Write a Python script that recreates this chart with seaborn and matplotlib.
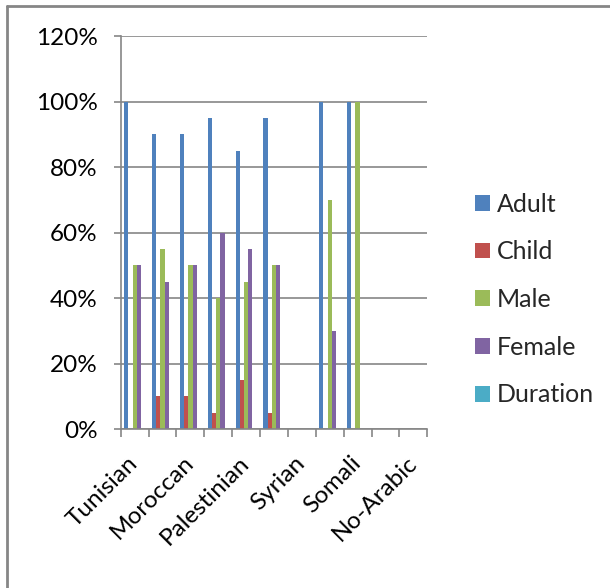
import numpy as np
import pandas as pd
import seaborn as sns
import matplotlib
matplotlib.use("Agg")
import matplotlib.pyplot as plt
from matplotlib.lines import Line2D
from matplotlib.patches import Patch

# ---- data ----
categories = ["Tunisian", "(2)", "Moroccan", "(4)", "Palestinian", "(6)",
              "Syrian", "(8)", "Somali", "(10)", "No-Arabic"]
shown_labels = ["Tunisian", "", "Moroccan", "", "Palestinian", "",
                "Syrian", "", "Somali", "", "No-Arabic"]
series = ["Adult", "Child", "Male", "Female", "Duration"]
adult    = [1.00, 0.90, 0.90, 0.95, 0.85, 0.95, 0.0, 1.00, 1.00, 0.0, 0.0]
child    = [0.00, 0.10, 0.10, 0.05, 0.15, 0.05, 0.0, 0.00, 0.00, 0.0, 0.0]
male     = [0.50, 0.55, 0.50, 0.40, 0.45, 0.50, 0.0, 0.70, 1.00, 0.0, 0.0]
female   = [0.50, 0.45, 0.50, 0.60, 0.55, 0.50, 0.0, 0.30, 0.00, 0.0, 0.0]
duration = [0.0] * 11
colors = ["#4F81BD", "#C0504D", "#9BBB59", "#8064A2", "#4BACC6"]

rows = []
for name, vals in zip(series, [adult, child, male, female, duration]):
    for c, v in zip(categories, vals):
        rows.append({"category": c, "series": name, "value": v})
df = pd.DataFrame(rows)

sns.set_theme(style="white")
plt.rcParams["font.family"] = ["Lato", "DejaVu Sans"]

W, H = 610, 588
fig = plt.figure(figsize=(W / 100, H / 100), dpi=100)
ax = fig.add_axes([120.7 / W, 1 - 429 / H, (427.3 - 120.7) / W, (429 - 36.2) / H])

sns.barplot(data=df, x="category", y="value", hue="series", order=categories,
            hue_order=series, palette=colors, width=0.76, saturation=1,
            ax=ax, legend=False, linewidth=0, errorbar=None)

grey = "#868686"
ax.set_ylim(0, 1.2)
ax.set_xlim(-0.5, len(categories) - 0.5)
ax.set_yticks(np.arange(0, 1.21, 0.2))
ax.set_yticklabels([f"{int(round(t * 100))}%" for t in np.arange(0, 1.21, 0.2)])
ax.yaxis.grid(True, color=grey, linewidth=1.2)
ax.set_axisbelow(True)
for s in ["top", "right"]:
    ax.spines[s].set_visible(False)
for s in ["left", "bottom"]:
    ax.spines[s].set_color(grey)
    ax.spines[s].set_linewidth(1.2)
ax.set_xlabel("")
ax.set_ylabel("")

ax.set_xticks(range(len(categories)))
ax.set_xticklabels(shown_labels, rotation=45, ha="right", rotation_mode="anchor", va="center")
ax.set_xticks(np.arange(-0.5, len(categories), 1.0), minor=True)
ax.tick_params(axis="x", which="major", length=0, pad=22, labelsize=17.5, colors="black")
ax.tick_params(axis="x", which="minor", length=6, width=1.2, color=grey, direction="out", bottom=True)
ax.tick_params(axis="y", which="major", length=5, width=1.2, color=grey, direction="out",
               left=True, labelsize=17.5, pad=11.5, labelcolor="black")

handles = [Patch(facecolor=c, edgecolor="none") for c in colors]
fig.legend(handles, series, loc="upper left", bbox_to_anchor=(452 / W, 1 - 170 / H),
           frameon=False, fontsize=18, labelspacing=0.99, handlelength=0.6,
           handleheight=0.6, handletextpad=0.3)

# chart area border (top and left visible in reference)
fig.add_artist(Line2D([6.5 / W, 1], [1 - 6 / H, 1 - 6 / H], transform=fig.transFigure,
                      color=grey, linewidth=2))
fig.add_artist(Line2D([6.5 / W, 6.5 / W], [0, 1 - 6 / H], transform=fig.transFigure,
                      color=grey, linewidth=2))

fig.savefig("out.png", dpi=100, facecolor="white")
